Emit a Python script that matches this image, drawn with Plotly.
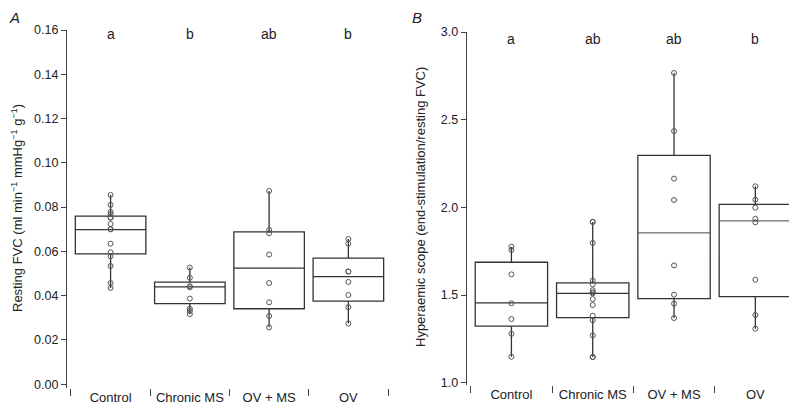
import plotly.graph_objects as go

categories = ["Control", "Chronic MS", "OV + MS", "OV"]

# Panel A: resting FVC (individual animals)
a_control = [0.0855, 0.0810, 0.0778, 0.0768, 0.0752, 0.0754, 0.0724, 0.0700, 0.0700,
             0.0635, 0.0596, 0.0578, 0.0534, 0.0457, 0.0435]
a_chronic = [0.0527, 0.0481, 0.0443, 0.0438, 0.0387, 0.0341, 0.0331, 0.0317]
a_ovms = [0.0873, 0.0697, 0.0682, 0.0586, 0.0457, 0.0370, 0.0308, 0.0257]
a_ov = [0.0656, 0.0635, 0.0509, 0.0509, 0.0462, 0.0403, 0.0348, 0.0274]
a_q1 = [0.0589, 0.0364, 0.0341, 0.0375]
a_median = [0.0698, 0.0440, 0.0524, 0.0486]
a_q3 = [0.0759, 0.0461, 0.0688, 0.0570]
a_min = [0.0435, 0.0317, 0.0257, 0.0274]
a_max = [0.0855, 0.0527, 0.0873, 0.0656]
a_letters = ["a", "b", "ab", "b"]

# Panel B: hyperaemic scope
b_control = [1.776, 1.757, 1.618, 1.453, 1.363, 1.279, 1.148]
b_chronic = [1.917, 1.917, 1.797, 1.582, 1.561, 1.527, 1.515, 1.510, 1.477, 1.443,
             1.382, 1.356, 1.270, 1.147, 1.147]
b_ovms = [2.766, 2.435, 2.164, 2.042, 1.669, 1.502, 1.451, 1.369]
b_ov = [2.120, 2.044, 1.998, 1.935, 1.915, 1.587, 1.386, 1.308]
b_q1 = [1.323, 1.371, 1.479, 1.491]
b_median = [1.455, 1.510, 1.856, 1.924]
b_q3 = [1.687, 1.569, 2.297, 2.017]
b_min = [1.148, 1.147, 1.369, 1.308]
b_max = [1.776, 1.917, 2.766, 2.120]
b_letters = ["a", "ab", "ab", "b"]
b_median_color = ["#333333", "#333333", "#8a8a8a", "#8a8a8a"]
a_median_color = ["#333333", "#333333", "#333333", "#333333"]

a_ytitle = "Resting FVC (ml min<sup>−1</sup> mmHg<sup>−1</sup> g<sup>−1</sup>)"
b_ytitle = "Hyperaemic scope (end-stimulation/resting FVC)"

BOX = "#333333"
PT = "#555555"
FONT = "Liberation Sans, Arial, sans-serif"
BOXW = 0.89

# the page body has an 8px margin; figure sized to fit the 797x408 window
W, H, OFF = 789, 400, 8


def fx(px):  # window x pixel -> paper fraction
    return (px - OFF) / W


def fy(py):  # window y pixel -> paper fraction
    return (H - (py - OFF)) / H


fig = go.Figure()


def add_panel(xa, ya, groups, q1, med, q3, lo, hi, mcolors):
    fig.add_trace(go.Box(
        x=categories, q1=q1, median=med, q3=q3, lowerfence=lo, upperfence=hi,
        xaxis=xa, yaxis=ya, fillcolor="rgba(0,0,0,0)", width=BOXW,
        line=dict(color=BOX, width=1.3), whiskerwidth=0, boxpoints=False,
        showlegend=False, hoverinfo="skip"))
    for i, c in enumerate(categories):
        if mcolors[i] != BOX:
            fig.add_trace(go.Box(
                x=[c], q1=[med[i]], median=[med[i]], q3=[med[i]],
                lowerfence=[med[i]], upperfence=[med[i]], width=BOXW - 0.01,
                xaxis=xa, yaxis=ya, fillcolor="rgba(0,0,0,0)",
                line=dict(color=mcolors[i], width=1.3), whiskerwidth=0,
                boxpoints=False, showlegend=False, hoverinfo="skip"))
    for c, vals in zip(categories, groups):
        fig.add_trace(go.Scatter(
            x=[c] * len(vals), y=vals, mode="markers", xaxis=xa, yaxis=ya,
            marker=dict(symbol="circle-open", size=5, color=PT, line=dict(width=1)),
            showlegend=False, hoverinfo="skip"))


add_panel("x", "y", [a_control, a_chronic, a_ovms, a_ov],
          a_q1, a_median, a_q3, a_min, a_max, a_median_color)
add_panel("x2", "y2", [b_control, b_chronic, b_ovms, b_ov],
          b_q1, b_median, b_q3, b_min, b_max, b_median_color)

xcommon = dict(type="category", categoryorder="array", categoryarray=categories,
               range=[-0.55, 3.5], tickson="boundaries", ticks="outside", ticklen=7,
               tickcolor="#444", tickwidth=1.2, showline=False, showgrid=False,
               zeroline=False, tickfont=dict(family=FONT, size=13, color="#222"),
               ticklabelstandoff=0, automargin=False)
ycommon = dict(showline=True, linecolor="#444", linewidth=1.2, ticks="outside",
               ticklen=5, tickcolor="#444", tickwidth=1.2, showgrid=False,
               zeroline=False, tickfont=dict(family=FONT, size=12.5, color="#222"),
               automargin=False)

fig.update_layout(
    template="none",
    width=W, height=H, margin=dict(l=0, r=0, t=0, b=0, autoexpand=False),
    paper_bgcolor="white", plot_bgcolor="white", boxmode="overlay",
    xaxis=dict(domain=[fx(67), fx(388)], anchor="y", **xcommon),
    xaxis2=dict(domain=[fx(466.7), fx(796)], anchor="y2", **xcommon),
    yaxis=dict(domain=[fy(388), fy(30)], anchor="x",
               range=[-0.0017, 0.16], tickvals=[0, 0.02, 0.04, 0.06, 0.08, 0.10, 0.12, 0.14, 0.16],
               tickformat=".2f", **ycommon),
    yaxis2=dict(domain=[fy(385), fy(32)], anchor="x2",
                range=[0.987, 3.0], tickvals=[1.0, 1.5, 2.0, 2.5, 3.0], tickformat=".1f",
                **ycommon),
)

fig.add_annotation(x=fx(8), y=fy(208), xref="paper", yref="paper", text=a_ytitle,
                   textangle=-90, showarrow=False, xanchor="left", yanchor="middle",
                   borderpad=0, font=dict(family=FONT, size=13, color="#222"))
fig.add_annotation(x=fx(420), y=fy(207), xref="paper", yref="paper", text=b_ytitle,
                   textangle=-90, showarrow=False, xanchor="center", yanchor="middle",
                   font=dict(family=FONT, size=13, color="#222"))

for c, t in zip(categories, a_letters):
    fig.add_annotation(x=c, y=0.99, xref="x", yref="y domain", text=t, showarrow=False,
                       font=dict(family=FONT, size=14, color="#222"), yanchor="middle")
for c, t in zip(categories, b_letters):
    fig.add_annotation(x=c, y=0.98, xref="x2", yref="y2 domain", text=t, showarrow=False,
                       font=dict(family=FONT, size=14, color="#222"), yanchor="middle")

fig.add_annotation(x=0, y=1, xref="paper", yref="paper", text="<i>A</i>",
                   showarrow=False, xanchor="left", yanchor="top", borderpad=0,
                   font=dict(family=FONT, size=15, color="#222"))
fig.add_annotation(x=fx(411), y=1, xref="paper", yref="paper", text="<i>B</i>",
                   showarrow=False, xanchor="left", yanchor="top", borderpad=0,
                   font=dict(family=FONT, size=15, color="#222"))

fig.write_html("out.html")
